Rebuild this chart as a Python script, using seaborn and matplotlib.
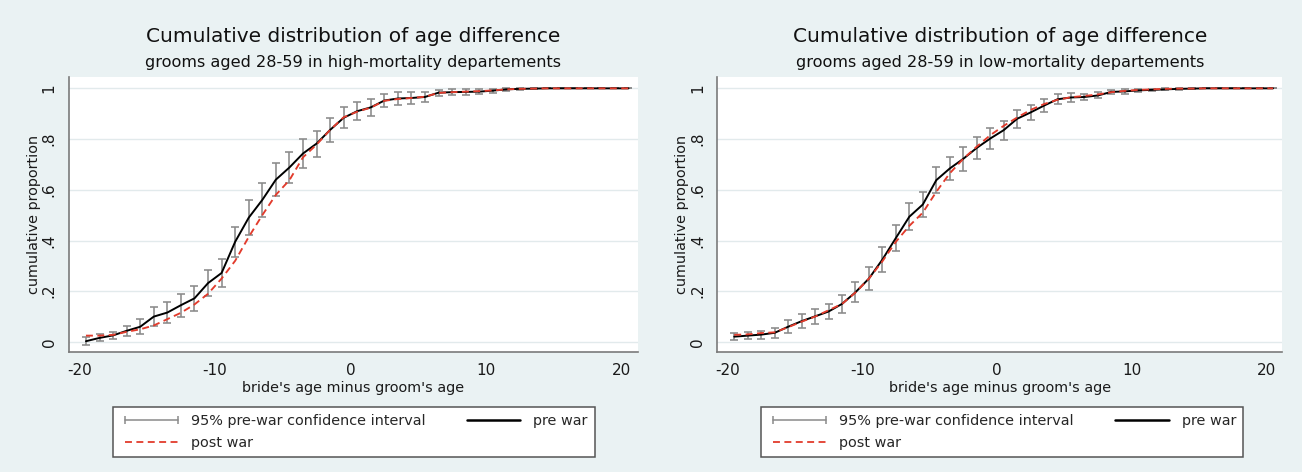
import numpy as np
import pandas as pd
import matplotlib
matplotlib.use("Agg")
import matplotlib.pyplot as plt
from matplotlib.lines import Line2D
import seaborn as sns

# Age difference (bride minus groom), bin midpoints
age_diff = [-19.5, -18.5, -17.5, -16.5, -15.5, -14.5, -13.5, -12.5, -11.5, -10.5,
            -9.5, -8.5, -7.5, -6.5, -5.5, -4.5, -3.5, -2.5, -1.5, -0.5,
            0.5, 1.5, 2.5, 3.5, 4.5, 5.5, 6.5, 7.5, 8.5, 9.5,
            10.5, 11.5, 12.5, 13.5, 14.5, 15.5, 16.5, 17.5, 18.5, 19.5, 20.5]

# High-mortality departements
high_pre = [0.003, 0.016, 0.026, 0.044, 0.060, 0.100, 0.116, 0.145, 0.172, 0.232,
            0.272, 0.395, 0.490, 0.560, 0.640, 0.688, 0.743, 0.782, 0.836, 0.884,
            0.910, 0.925, 0.952, 0.960, 0.962, 0.966, 0.983, 0.985, 0.986, 0.987,
            0.991, 0.996, 0.998, 0.999, 1.0, 1.0, 1.0, 1.0, 1.0, 1.0, 1.0]
high_post = [0.025, 0.025, 0.028, 0.040, 0.050, 0.065, 0.090, 0.115, 0.148, 0.190,
             0.250, 0.320, 0.414, 0.500, 0.580, 0.638, 0.728, 0.778, 0.836, 0.886,
             0.908, 0.924, 0.951, 0.958, 0.962, 0.967, 0.982, 0.985, 0.987, 0.989,
             0.992, 0.996, 0.998, 0.999, 1.0, 1.0, 1.0, 1.0, 1.0, 1.0, 1.0]
high_ci = [0.015, 0.014, 0.014, 0.020, 0.030, 0.038, 0.040, 0.046, 0.050, 0.050,
           0.056, 0.060, 0.068, 0.068, 0.064, 0.062, 0.056, 0.051, 0.047, 0.042,
           0.036, 0.033, 0.027, 0.026, 0.024, 0.019, 0.012, 0.012, 0.012, 0.011,
           0.008, 0.005, 0.003, 0.002, 0.0, 0.0, 0.0, 0.0, 0.0, 0.0, 0.0]

# Low-mortality departements
low_pre = [0.021, 0.025, 0.029, 0.036, 0.060, 0.082, 0.101, 0.120, 0.150, 0.196,
           0.250, 0.325, 0.410, 0.494, 0.542, 0.638, 0.684, 0.722, 0.765, 0.802,
           0.835, 0.880, 0.905, 0.932, 0.957, 0.964, 0.966, 0.972, 0.986, 0.988,
           0.992, 0.994, 0.996, 0.998, 0.999, 1.0, 1.0, 1.0, 1.0, 1.0, 1.0]
low_post = [0.028, 0.030, 0.035, 0.038, 0.058, 0.080, 0.100, 0.125, 0.150, 0.195,
            0.250, 0.318, 0.395, 0.458, 0.510, 0.592, 0.665, 0.722, 0.770, 0.815,
            0.852, 0.885, 0.915, 0.938, 0.955, 0.965, 0.970, 0.976, 0.985, 0.990,
            0.994, 0.996, 0.998, 0.999, 0.999, 1.0, 1.0, 1.0, 1.0, 1.0, 1.0]
low_ci = [0.014, 0.014, 0.016, 0.020, 0.025, 0.028, 0.030, 0.030, 0.035, 0.040,
          0.045, 0.048, 0.050, 0.053, 0.050, 0.050, 0.047, 0.046, 0.043, 0.042,
          0.038, 0.035, 0.030, 0.026, 0.020, 0.016, 0.013, 0.012, 0.009, 0.009,
          0.006, 0.005, 0.004, 0.003, 0.002, 0.0, 0.0, 0.0, 0.0, 0.0, 0.0]

title = "Cumulative distribution of age difference"
subtitles = ["grooms aged 28-59 in high-mortality departements",
             "grooms aged 28-59 in low-mortality departements"]
x_label = "bride's age minus groom's age"
y_label = "cumulative proportion"
x_ticks = [-20, -10, 0, 10, 20]
y_ticks = [0, 0.2, 0.4, 0.6, 0.8, 1.0]
y_tick_labels = ["0", ".2", ".4", ".6", ".8", "1"]

BG = "#EAF2F3"
GRID = "#E2EAEC"
AXIS = "#7A7A7A"
CI_COLOR = "#8A8A8A"
RED = "#E23B2C"

W, H = 1302, 472

sns.set_theme(style="white")
plt.rcParams["font.family"] = ["DejaVu Sans"]
plt.rcParams["lines.scale_dashes"] = False

fig = plt.figure(figsize=(W / 100, H / 100), dpi=100, facecolor=BG)
axes_rects = [[0.053, 0.254, 0.437, 0.583], [0.551, 0.254, 0.434, 0.583]]

panels = [(high_pre, high_post, high_ci), (low_pre, low_post, low_ci)]

for rect, (pre, post, ci), sub in zip(axes_rects, panels, subtitles):
    ax = fig.add_axes(rect)
    ax.set_facecolor("white")

    df = pd.DataFrame({"diff": age_diff, "pre": pre, "post": post, "ci": ci})

    for y in y_ticks:
        ax.axhline(y, color=GRID, lw=1.0, zorder=0)

    ax.errorbar(df["diff"], df["pre"], yerr=df["ci"], fmt="none",
                ecolor=CI_COLOR, elinewidth=1.15, capsize=2.6, capthick=1.15,
                zorder=2)
    sns.lineplot(data=df, x="diff", y="pre", ax=ax, color="black",
                 lw=1.4, zorder=3)
    sns.lineplot(data=df, x="diff", y="post", ax=ax, color=RED,
                 lw=1.35, linestyle=(0, (5.0, 3.2)), zorder=4)

    ax.set_xlim(-20.75, 21.2)
    ax.set_ylim(-0.04, 1.045)
    ax.set_xticks(x_ticks)
    ax.set_xticklabels([str(t) for t in x_ticks], fontsize=11)
    ax.set_yticks(y_ticks)
    ax.set_yticklabels(y_tick_labels, fontsize=11, rotation=90, va="center")

    for side in ["top", "right"]:
        ax.spines[side].set_visible(False)
    for side in ["left", "bottom"]:
        ax.spines[side].set_color(AXIS)
        ax.spines[side].set_linewidth(1.2)
    ax.tick_params(axis="both", direction="out", length=4, width=1,
                   color=AXIS, labelcolor="#1a1a1a")
    ax.tick_params(axis="x", pad=4)
    ax.tick_params(axis="y", pad=5)

    ax.set_xlabel(x_label, fontsize=10.4, color="#1a1a1a")
    ax.xaxis.set_label_coords(0.5, -0.105)
    ax.set_ylabel(y_label, fontsize=10.4, color="#1a1a1a")
    ax.yaxis.set_label_coords(-0.05, 0.5)

    cx = rect[0] + rect[2] / 2
    fig.text(cx, 1 - 37 / H, title, ha="center", va="center",
             fontsize=14.5, color="#111111")
    fig.text(cx, 1 - 63 / H, sub, ha="center", va="center",
             fontsize=11.6, color="#111111")

    handles = [
        Line2D([], [], color=CI_COLOR, lw=1.1, marker="|", markersize=6,
               markeredgewidth=1.1),
        Line2D([], [], color=RED, lw=1.3, linestyle=(0, (5.0, 3.2))),
        Line2D([], [], color="black", lw=1.8),
    ]
    labels = ["95% pre-war confidence interval", "post war", "pre war"]

    # legend box spans from 44 px right of the axis spine to 526 px right of it
    x0_px = rect[0] * W + 44
    box = (x0_px / W, 1 - 459 / H, 482 / W, 54 / H)
    leg = ax.legend(handles, labels, ncol=2, loc="center", mode="expand",
                    bbox_to_anchor=box, bbox_transform=fig.transFigure,
                    borderaxespad=0, numpoints=2, fontsize=10.4,
                    handlelength=4.3, handletextpad=0.6, labelspacing=0.5,
                    borderpad=0.5, fancybox=False, framealpha=1,
                    facecolor="white", edgecolor="#555555")
    leg.get_frame().set_linewidth(1.1)

fig.savefig("out.png", dpi=100, facecolor=BG)
